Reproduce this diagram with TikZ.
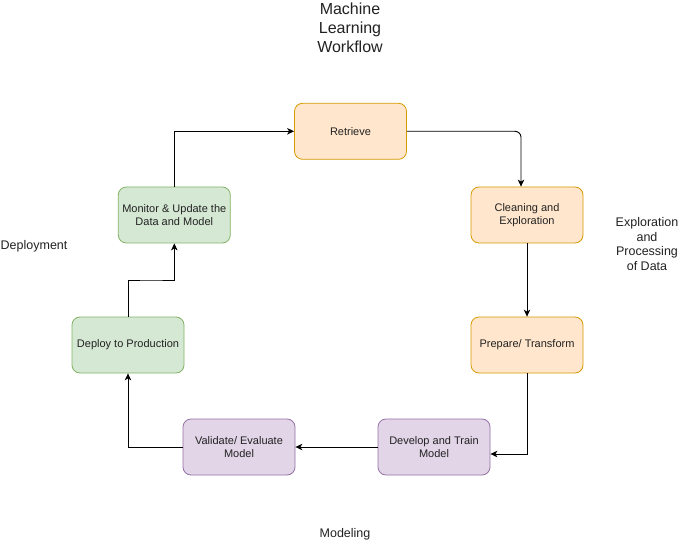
\documentclass[tikz,border=0pt]{standalone}
\usepackage{fontspec}
\setmainfont{Liberation Sans}
\usetikzlibrary{arrows.meta,calc}
\definecolor{orfill}{HTML}{FFE6CC}
\definecolor{ordraw}{HTML}{D79B00}
\definecolor{pufill}{HTML}{E1D5E7}
\definecolor{pudraw}{HTML}{9673A6}
\definecolor{grfill}{HTML}{D5E8D4}
\definecolor{grdraw}{HTML}{82B366}
\definecolor{txt}{HTML}{222222}
\tikzset{
  box/.style={rounded corners=8pt, minimum width=112pt, minimum height=56pt, inner sep=0pt,
    align=center, font=\fontsize{11pt}{12.7pt}\selectfont, text=txt, line width=0.8pt},
  orbox/.style={box, fill=orfill, draw=ordraw},
  pubox/.style={box, fill=pufill, draw=pudraw},
  grbox/.style={box, fill=grfill, draw=grdraw},
  conn/.style={draw=black, line width=0.9pt, -{Stealth[length=7pt,width=6.5pt,inset=2pt]}},
  lbl/.style={align=center, text=txt, inner sep=0pt}
}
\begin{document}
\begin{tikzpicture}[x=1pt,y=-1pt]
\useasboundingbox (0,0) rectangle (680,556);
\fill[white] (0,0) rectangle (680,556);
% title and group labels
\node[lbl, font=\fontsize{16pt}{19pt}\selectfont] (title) at (350,28) {Machine\\Learning\\Workflow};
\node[lbl, font=\fontsize{12.5pt}{14.5pt}\selectfont] (explab) at (647,244) {Exploration\\and\\Processing\\of Data};
\node[lbl, font=\fontsize{12.5pt}{14.5pt}\selectfont, anchor=west] (deplab) at (0.5,246) {Deployment};
\node[lbl, font=\fontsize{12.5pt}{14.5pt}\selectfont] (modlab) at (345,534) {Modeling};
% boxes
\node[orbox] (retrieve) at (350.5,131.3) {Retrieve};
\node[orbox] (clean) at (527,215) {Cleaning and\\Exploration};
\node[orbox] (prepare) at (527,345) {Prepare/ Transform};
\node[pubox] (develop) at (434,447) {Develop and Train\\Model};
\node[pubox] (validate) at (239,447) {Validate/ Evaluate\\Model};
\node[grbox] (deploy) at (128,345) {Deploy to Production};
\node[grbox] (monitor) at (174.3,215) {Monitor \& Update the\\Data and Model};
% connectors
\coordinate (cleanin) at ([xshift=-6pt]clean.north);
\draw[conn, rounded corners=6pt] (retrieve.east) -| (cleanin);
\draw[conn] (clean.south) -- (prepare.north);
\coordinate (devin) at ([yshift=-7pt]develop.east);
\draw[conn] (prepare.south) |- (devin);
\draw[conn] (develop.west) -- (validate.east);
\draw[conn] (validate.west) -| (deploy.south);
\coordinate (mid) at ($(deploy.north)!0.5!(monitor.south)$);
\draw[conn] (deploy.north) |- (mid) -| (monitor.south);
\draw[conn] (monitor.north) |- (retrieve.west);
\end{tikzpicture}
\end{document}
